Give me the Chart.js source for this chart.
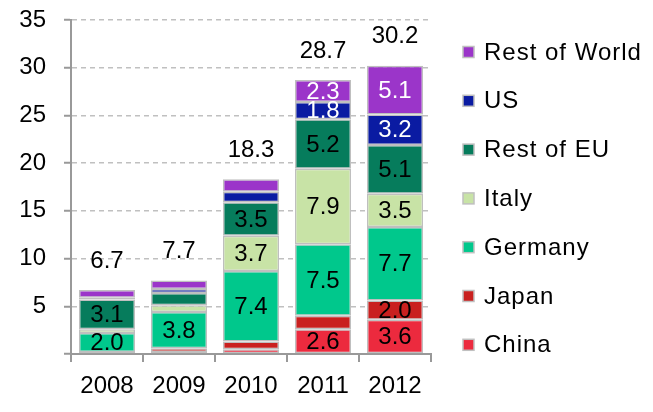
<!DOCTYPE html>
<html>
<head>
<meta charset="utf-8">
<script src="https://cdn.jsdelivr.net/npm/chart.js@4/dist/chart.umd.min.js"></script>
<style>
html,body{margin:0;padding:0;background:#fff;}
#wrap{width:653px;height:412px;position:relative;}
</style>
</head>
<body>
<div id="wrap"><canvas id="c" width="653" height="412"></canvas></div>
<script>
const years = ['2008', '2009', '2010', '2011', '2012'];
const china   = [0.0, 0.2, 0.5, 2.6, 3.6];
const japan   = [0.2, 0.4, 0.8, 1.4, 2.0];
const germany = [2.0, 3.8, 7.4, 7.5, 7.7];
const italy   = [0.4, 0.7, 3.7, 7.9, 3.5];
const restEU  = [3.1, 1.3, 3.5, 5.2, 5.1];
const us      = [0.2, 0.4, 1.1, 1.8, 3.2];
const restWorld = [0.8, 0.9, 1.3, 2.3, 5.1];
const totals  = ['6.7', '7.7', '18.3', '28.7', '30.2'];
const yTicks  = [0, 5, 10, 15, 20, 25, 30, 35];

const FONT = '"Liberation Sans", Arial, sans-serif';
const seriesDefs = [
  {label: 'China', data: china, color: '#ec2a3e', text: '#000'},
  {label: 'Japan', data: japan, color: '#c9201f', text: '#000'},
  {label: 'Germany', data: germany, color: '#00c88c', text: '#000'},
  {label: 'Italy', data: italy, color: '#c8e3a6', text: '#000'},
  {label: 'Rest of EU', data: restEU, color: '#067c5c', text: '#000'},
  {label: 'US', data: us, color: '#0a1ba2', text: '#fff'},
  {label: 'Rest of World', data: restWorld, color: '#9b35c9', text: '#fff'}
];

const labelPlugin = {
  id: 'segLabels',
  afterDatasetsDraw(chart) {
    const ctx = chart.ctx;
    ctx.save();
    ctx.font = '24px ' + FONT;
    ctx.textAlign = 'center';
    ctx.textBaseline = 'middle';
    chart.data.datasets.forEach((ds, di) => {
      const meta = chart.getDatasetMeta(di);
      meta.data.forEach((el, i) => {
        const v = ds.data[i];
        if (v >= 1.5) {
          ctx.fillStyle = seriesDefs[di].text;
          ctx.fillText(v.toFixed(1), el.x, (el.y + el.base) / 2 + 1);
        }
      });
    });
    const lastMeta = chart.getDatasetMeta(chart.data.datasets.length - 1);
    ctx.fillStyle = '#000';
    lastMeta.data.forEach((el, i) => {
      ctx.fillText(totals[i], el.x, el.y - 29);
    });
    // legend
    const lx = chart.chartArea.right + 32;
    const y0 = 52, step = 48.8;
    ctx.textAlign = 'left';
    try { ctx.letterSpacing = '1px'; } catch (e) {}
    for (let k = seriesDefs.length - 1, r = 0; k >= 0; k--, r++) {
      const y = y0 + r * step;
      ctx.fillStyle = seriesDefs[k].color;
      ctx.fillRect(lx, y - 5.5, 11, 11);
      ctx.strokeStyle = '#c0c0c0';
      ctx.lineWidth = 1.5;
      ctx.strokeRect(lx, y - 5.5, 11, 11);
      ctx.fillStyle = '#000';
      ctx.fillText(seriesDefs[k].label, lx + 21, y + 1);
    }
    ctx.restore();
  }
};

new Chart(document.getElementById('c'), {
  type: 'bar',
  data: {
    labels: years,
    datasets: seriesDefs.map(s => ({
      label: s.label,
      data: s.data,
      backgroundColor: s.color,
      borderColor: '#bfbfbf',
      borderWidth: 1.5,
      borderSkipped: false,
      categoryPercentage: 1,
      barPercentage: 0.78
    }))
  },
  options: {
    responsive: false,
    animation: false,
    devicePixelRatio: 1,
    layout: {padding: {left: 0, right: 222, top: 20, bottom: 0}},
    plugins: {legend: {display: false}, tooltip: {enabled: false}},
    scales: {
      x: {
        stacked: true,
        afterFit(s) { s.height = 58; s.paddingLeft = 0; s.paddingRight = 0; },
        grid: {drawOnChartArea: false, drawTicks: true, tickLength: 8, color: '#999', lineWidth: 2},
        border: {color: '#999', width: 2},
        ticks: {color: '#000', font: {family: FONT, size: 24}, padding: 10}
      },
      y: {
        stacked: true,
        min: 0, max: 35,
        afterFit(s) { s.width = 71; s.paddingTop = 0; s.paddingBottom = 0; },
        afterBuildTicks(s) { s.ticks = yTicks.map(v => ({value: v})); },
        grid: {color: '#c0c0c0', lineWidth: 1.5, tickLength: 7, tickColor: '#999', tickWidth: 2, tickBorderDash: []},
        border: {color: '#999', width: 2, dash: [5, 4]},
        ticks: {color: '#000', font: {family: FONT, size: 24}, padding: 18,
          callback: v => v === 0 ? '' : String(v)}
      }
    }
  },
  plugins: [labelPlugin]
});
</script>
</body>
</html>
